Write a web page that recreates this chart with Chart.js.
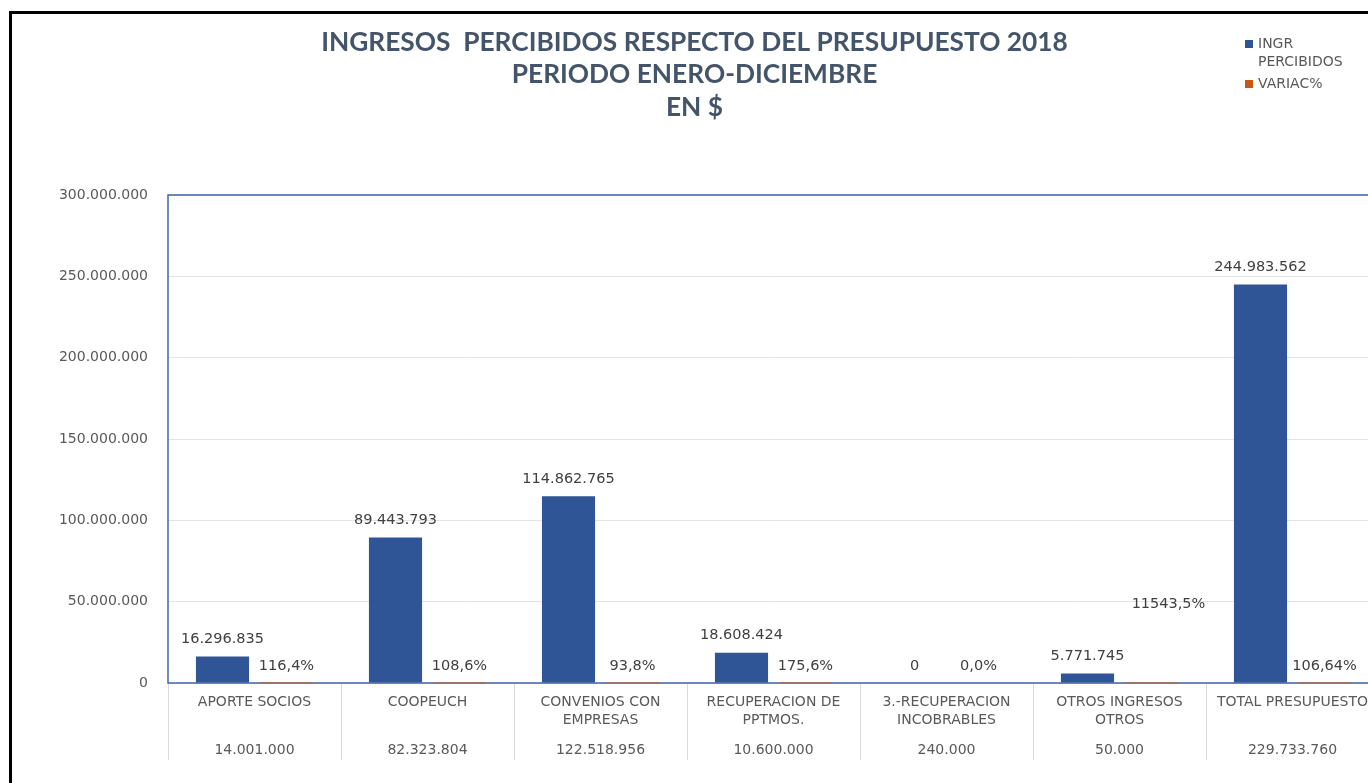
<!DOCTYPE html>
<html>
<head>
<meta charset="utf-8">
<script src="https://cdn.jsdelivr.net/npm/chart.js@4.4.1/dist/chart.umd.min.js"></script>
<style>
  html, body { margin: 0; padding: 0; background: #ffffff; overflow: hidden; }
  #wrap { position: relative; width: 1390px; height: 783px; }
  #frame { position: absolute; left: 9px; top: 11px; right: 0; bottom: -10px;
           border-left: 3px solid #000; border-top: 3px solid #000; pointer-events: none; }
</style>
</head>
<body>
<div id="wrap">
  <canvas id="c"></canvas>
  <div id="frame"></div>
</div>
<script>
// ---- data ----
const categories = [
  ['APORTE SOCIOS'],
  ['COOPEUCH'],
  ['CONVENIOS CON', 'EMPRESAS'],
  ['RECUPERACION DE', 'PPTMOS.'],
  ['3.-RECUPERACION', 'INCOBRABLES'],
  ['OTROS INGRESOS', 'OTROS'],
  ['TOTAL PRESUPUESTO']
];
const ingrPercibidos = [16296835, 89443793, 114862765, 18608424, 0, 5771745, 244983562];
const variacPct = [116.4, 108.6, 93.8, 175.6, 0.0, 11543.5, 106.64];
const presupuesto = [14001000, 82323804, 122518956, 10600000, 240000, 50000, 229733760];
const yMin = 0;
const yMax = 300000000;
const yStep = 50000000;
const titleLines = ['INGRESOS  PERCIBIDOS RESPECTO DEL PRESUPUESTO 2018', 'PERIODO ENERO-DICIEMBRE', 'EN $'];
const seriesNames = ['INGR PERCIBIDOS', 'VARIAC%'];

// ---- helpers ----
function fmtInt(v) {
  return Math.round(v).toString().replace(/\B(?=(\d{3})+(?!\d))/g, '.');
}
function fmtPct(v) {
  let s = String(v);
  if (s.indexOf('.') < 0) s += '.0';
  return s.replace('.', ',') + '%';
}

const SMALL = 'DejaVu Sans';
const BLUE = '#2F5597';
const ORANGE = '#C65911';
const GRAY = '#595959';

// custom data labels
const labelPlugin = {
  id: 'barLabels',
  afterDatasetsDraw(chart, args, opts) {
    const ctx = chart.ctx;
    ctx.save();
    ctx.font = '14.5px "' + SMALL + '"';
    ctx.fillStyle = '#404040';
    ctx.textAlign = 'center';
    ctx.textBaseline = 'middle';
    chart.data.datasets.forEach((ds, di) => {
      const meta = chart.getDatasetMeta(di);
      meta.data.forEach((el, i) => {
        const txt = di === 0 ? fmtInt(ds.data[i]) : fmtPct(ds.data[i]);
        let dx = 0, dy = 0;
        const off = (opts.offsets[di] || {})[i];
        if (off) { dx = off[0]; dy = off[1]; }
        ctx.fillText(txt, el.x + dx, el.y - 17 + dy);
      });
    });
    ctx.restore();
  }
};

// plot-area border
const framePlugin = {
  id: 'plotFrame',
  beforeDatasetsDraw(chart) {
    const {ctx, chartArea: a} = chart;
    ctx.save();
    ctx.strokeStyle = '#3E65AE';
    ctx.lineWidth = 1.5;
    ctx.strokeRect(a.left, a.top, a.right - a.left, a.bottom - a.top);
    ctx.restore();
  }
};

// budget row under category labels
const budgetPlugin = {
  id: 'budgetRow',
  afterDraw(chart) {
    const ctx = chart.ctx;
    const xs = chart.scales.x;
    ctx.save();
    ctx.font = '14px "' + SMALL + '"';
    ctx.fillStyle = GRAY;
    ctx.textAlign = 'center';
    ctx.textBaseline = 'middle';
    presupuesto.forEach((v, i) => {
      ctx.fillText(fmtInt(v), xs.getPixelForValue(i), 750);
    });
    ctx.restore();
  }
};

// legend (wrapped text)
const legendPlugin = {
  id: 'wrapLegend',
  afterDraw(chart) {
    const ctx = chart.ctx;
    ctx.save();
    ctx.font = '14px "' + SMALL + '"';
    ctx.textBaseline = 'middle';
    ctx.textAlign = 'left';
    const x0 = 1245, maxW = 92, lh = 18;
    let y = 44;
    chart.data.datasets.forEach((ds) => {
      ctx.fillStyle = ds.backgroundColor;
      ctx.fillRect(x0, y - 4, 8, 8);
      const words = ds.label.split(' ');
      const lines = [];
      let cur = '';
      words.forEach(w => {
        const t = cur ? cur + ' ' + w : w;
        if (cur && ctx.measureText(t).width > maxW) { lines.push(cur); cur = w; }
        else cur = t;
      });
      if (cur) lines.push(cur);
      ctx.fillStyle = GRAY;
      lines.forEach((ln, k) => ctx.fillText(ln, x0 + 13, y + k * lh));
      y += lines.length * lh + 4;
    });
    ctx.restore();
  }
};

new Chart(document.getElementById('c'), {
  type: 'bar',
  data: {
    labels: categories,
    datasets: [
      { label: seriesNames[0], data: ingrPercibidos, backgroundColor: BLUE,
        categoryPercentage: 0.74, barPercentage: 0.83 },
      { label: seriesNames[1], data: variacPct, backgroundColor: ORANGE,
        categoryPercentage: 0.74, barPercentage: 0.83 }
    ]
  },
  options: {
    responsive: true,
    maintainAspectRatio: false,
    animation: false,
    layout: { padding: { left: 10, right: 11, top: 0, bottom: 0 } },
    plugins: {
      legend: { display: false },
      tooltip: { enabled: false },
      title: {
        display: true,
        text: titleLines,
        color: '#44546A',
        font: { family: 'Lato', size: 26.3, weight: 'bold', lineHeight: 32.5 / 26.3 },
        padding: { top: 26, bottom: 71.5 }
      },
      barLabels: { offsets: { 1: { 5: [17, -62] } } }
    },
    scales: {
      x: {
        offset: true,
        grid: { display: true, offset: true, drawOnChartArea: false, drawTicks: true,
                tickLength: 77, color: '#D9D9D9', lineWidth: 1 },
        border: { display: false },
        ticks: { padding: -67, color: GRAY, maxRotation: 0, minRotation: 0, autoSkip: false,
                 font: { family: SMALL, size: 14, lineHeight: 18 / 14 } },
        afterFit(s) { s.height = 100; }
      },
      y: {
        min: yMin, max: yMax,
        grid: { color: '#E3E3E3', lineWidth: 1, drawTicks: false },
        border: { display: false },
        ticks: { stepSize: yStep, padding: 20, color: GRAY,
                 font: { family: SMALL, size: 14 },
                 callback: v => fmtInt(v) },
        afterFit(s) { s.width = 158; }
      }
    }
  },
  plugins: [framePlugin, labelPlugin, budgetPlugin, legendPlugin]
});
</script>
</body>
</html>
